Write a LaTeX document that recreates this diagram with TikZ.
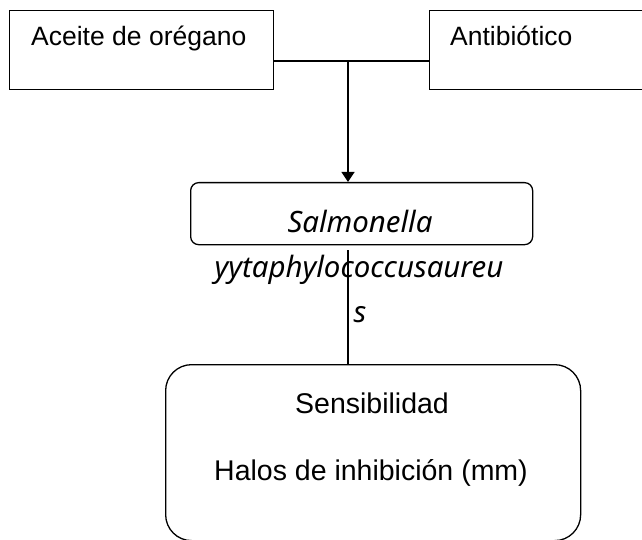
\documentclass[tikz,border=0pt]{standalone}
\usepackage{fontspec}
\setmainfont{Liberation Sans}
\newfontfamily\notoit{Noto Sans}[ItalicFont={* Italic}]
\usetikzlibrary{arrows.meta}
\tikzset{
  sqbox/.style={draw, line width=1.3pt, inner sep=0pt, anchor=north west},
  rbox/.style={draw, line width=1.3pt, inner sep=0pt, anchor=north west, rounded corners=#1},
  lbl/.style={inner sep=0pt, font=\fontsize{26.5}{30}\selectfont},
  itlbl/.style={inner sep=0pt, anchor=base, font=\notoit\itshape\fontsize{29.4}{45}\selectfont},
  conn/.style={line width=1.3pt},
  arr/.style={line width=1.3pt, -{Triangle[length=10pt,width=13pt]}},
}
\begin{document}
\begin{tikzpicture}[x=1pt,y=-1pt]
\useasboundingbox (0,0) rectangle (642,540);
\clip (0,0) rectangle (642,540);
\fill[white] (0,0) rectangle (642,540);
% top boxes
\node[sqbox, minimum width=264pt, minimum height=79pt] (ace) at (9,10) {};
\node[lbl, anchor=base west] (acet) at (31,46) {Aceite de orégano};
\node[sqbox, minimum width=300pt, minimum height=79pt] (anti) at (429,10) {};
\node[lbl, anchor=base west] (antit) at (450,46) {Antibiótico};
% middle box
\node[rbox=8pt, minimum width=342pt, minimum height=62pt] (sal) at (190,182) {};
\node[itlbl] (salt) at (360,232) {Salmonella};
\node[itlbl] (salt2) at (359,277) {yytaphylococcusaureu};
\node[itlbl] (salt3) at (360,322) {s};
% bottom box
\node[rbox=26pt, minimum width=415pt, minimum height=176pt] (sens) at (165,364) {};
\node[inner sep=0pt, anchor=base, font=\fontsize{28.5}{32}\selectfont] (senst) at (372,413) {Sensibilidad};
\node[inner sep=0pt, anchor=base, font=\fontsize{28.5}{32}\selectfont] (halt) at (371,480) {Halos de inhibición (mm)};
% connectors
\coordinate (j) at (348,61);
\draw[conn] (ace.east |- j) -- (anti.west |- j);
\draw[arr] (j) -- (j |- sal.north);
\draw[conn] ([yshift=-5pt]j |- sal.south) -- (j |- sens.north);
\end{tikzpicture}
\end{document}
